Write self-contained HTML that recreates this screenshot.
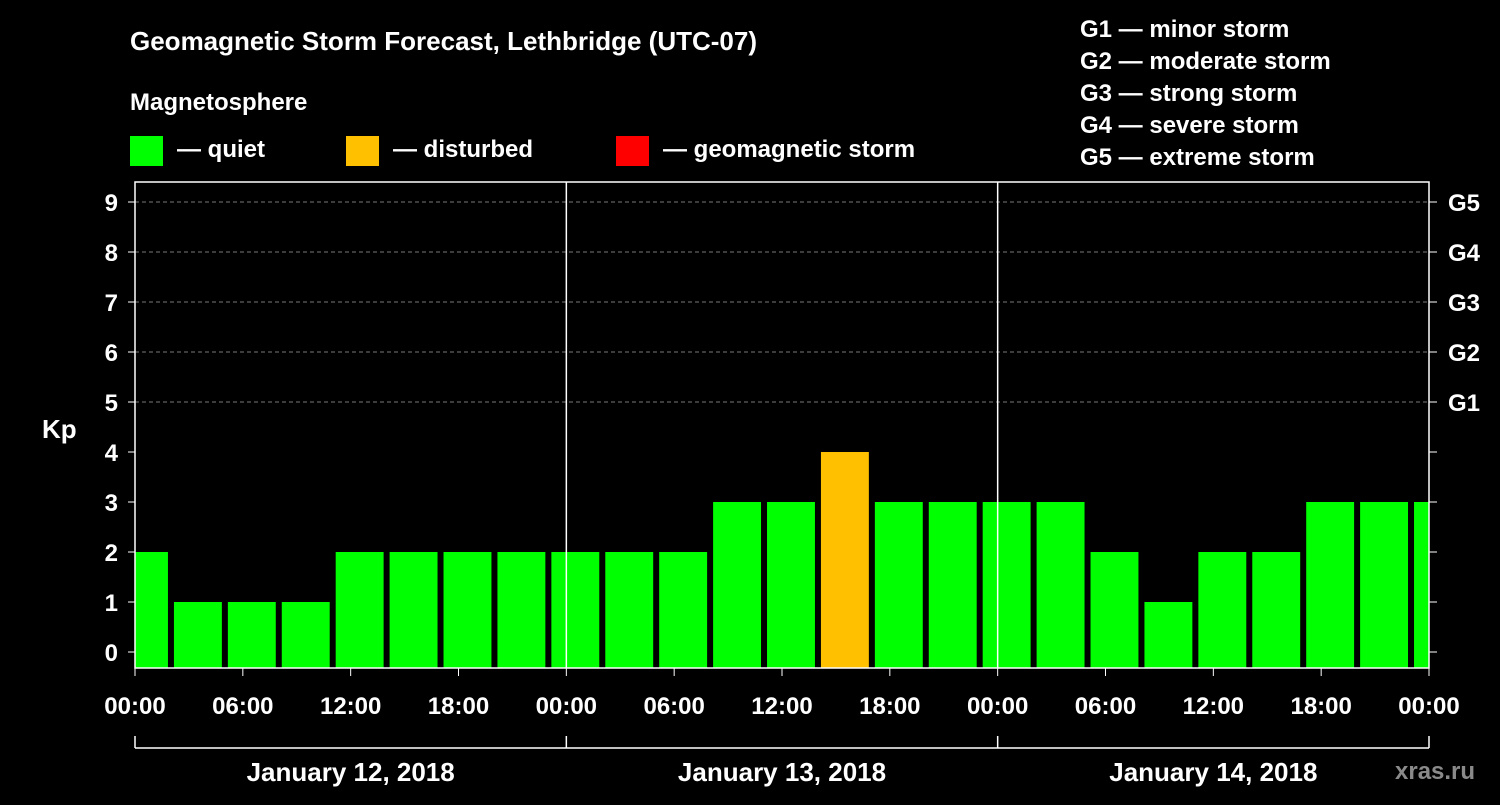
<!DOCTYPE html>
<html><head><meta charset="utf-8"><style>
body{margin:0;background:#000;width:1500px;height:800px;overflow:hidden}
svg text{font-family:"Liberation Sans",sans-serif;font-weight:bold;fill:#fff}
</style></head><body>
<svg id="c" width="1500" height="800">
<text x="130" y="50" font-size="26">Geomagnetic Storm Forecast, Lethbridge (UTC-07)</text>
<text x="130" y="110" font-size="24">Magnetosphere</text>
<g><rect x="130" y="136" width="33" height="30" fill="#00ff00"/><text x="177" y="157" font-size="24">— quiet</text></g>
<g><rect x="346" y="136" width="33" height="30" fill="#ffc000"/><text x="393" y="157" font-size="24">— disturbed</text></g>
<g><rect x="616" y="136" width="33" height="30" fill="#ff0000"/><text x="663" y="157" font-size="24">— geomagnetic storm</text></g>
<g font-size="24">
<text x="1080" y="37">G1 — minor storm</text>
<text x="1080" y="69">G2 — moderate storm</text>
<text x="1080" y="101">G3 — strong storm</text>
<text x="1080" y="133">G4 — severe storm</text>
<text x="1080" y="165">G5 — extreme storm</text></g>
<text x="42" y="438" font-size="26">Kp</text>
<text x="1395" y="779" font-size="24" fill="#888" style="fill:#8a8a8a">xras.ru</text>
<g id="grid"></g><g id="bars"></g><g id="axes"></g>
</svg>
<script>
const kpValues=[2,1,1,1,2,2,2,2,2,2,2,3,3,4,3,3,3,3,2,1,2,2,3,3,3];
const yTicks=[0,1,2,3,4,5,6,7,8,9];
const gLabels=["G1","G2","G3","G4","G5"];
const xLabels=["00:00","06:00","12:00","18:00","00:00","06:00","12:00","18:00","00:00","06:00","12:00","18:00","00:00"];
const dateLabels=["January 12, 2018","January 13, 2018","January 14, 2018"];
const L=135,R=1429,T=182,B=668;
const xh=h=>L+h*(R-L)/72;
const yv=v=>652-v*50;
const NS="http://www.w3.org/2000/svg";
function mk(tag,attrs,parent,text){const e=document.createElementNS(NS,tag);for(const k in attrs)e.setAttribute(k,attrs[k]);if(text!==undefined)e.textContent=text;document.getElementById(parent).appendChild(e);return e;}
yTicks.forEach(v=>{
 if(v>=5){const g=mk('line',{x1:L,x2:R,y1:yv(v),y2:yv(v),stroke:'#777','stroke-dasharray':'4,3'},'grid');
 
 }
 const t=mk('text',{x:118,y:yv(v)+9,'font-size':24,'text-anchor':'end'},'axes',String(v));
 
 
 mk('line',{x1:128,x2:L,y1:yv(v),y2:yv(v),stroke:'#fff'},'axes');
 mk('line',{x1:R,x2:R+8,y1:yv(v),y2:yv(v),stroke:'#fff'},'axes');
});
gLabels.forEach((g,i)=>{const t=mk('text',{x:1448,y:yv(i+5)+9,'font-size':24},'axes',g);
 
 });
kpValues.forEach((v,k)=>{
 let x0=xh(3*k-1)+3,x1=xh(3*k+2)-3;x0=Math.max(x0,L);x1=Math.min(x1,R);
 const col=v>=5?'#ff0000':(v>=4?'#ffc000':'#00ff00');
 const r=mk('rect',{x:x0,y:yv(v),width:x1-x0,height:B-yv(v),fill:col},'bars');
 
 
});
mk('rect',{x:L,y:T,width:R-L,height:B-T,fill:'none',stroke:'#fff','stroke-width':1.5},'axes');
[24,48].forEach(h=>mk('line',{x1:xh(h),x2:xh(h),y1:T,y2:B,stroke:'#fff','stroke-width':1.5},'axes'));
xLabels.forEach((s,i)=>{const x=xh(i*6);
 mk('line',{x1:x,x2:x,y1:B,y2:B+8,stroke:'#fff'},'axes');
 const t=mk('text',{x:x,y:714,'font-size':24,'text-anchor':'middle'},'axes',s);
 
 });
mk('line',{x1:L,x2:R,y1:748,y2:748,stroke:'#fff','stroke-width':1.5},'axes');
[0,24,48,72].forEach(h=>mk('line',{x1:xh(h),x2:xh(h),y1:736,y2:748,stroke:'#fff','stroke-width':1.5},'axes'));
dateLabels.forEach((s,i)=>{const t=mk('text',{x:xh(i*24+12),y:781,'font-size':26,'text-anchor':'middle'},'axes',s);
 
 });
</script>
</body></html>
